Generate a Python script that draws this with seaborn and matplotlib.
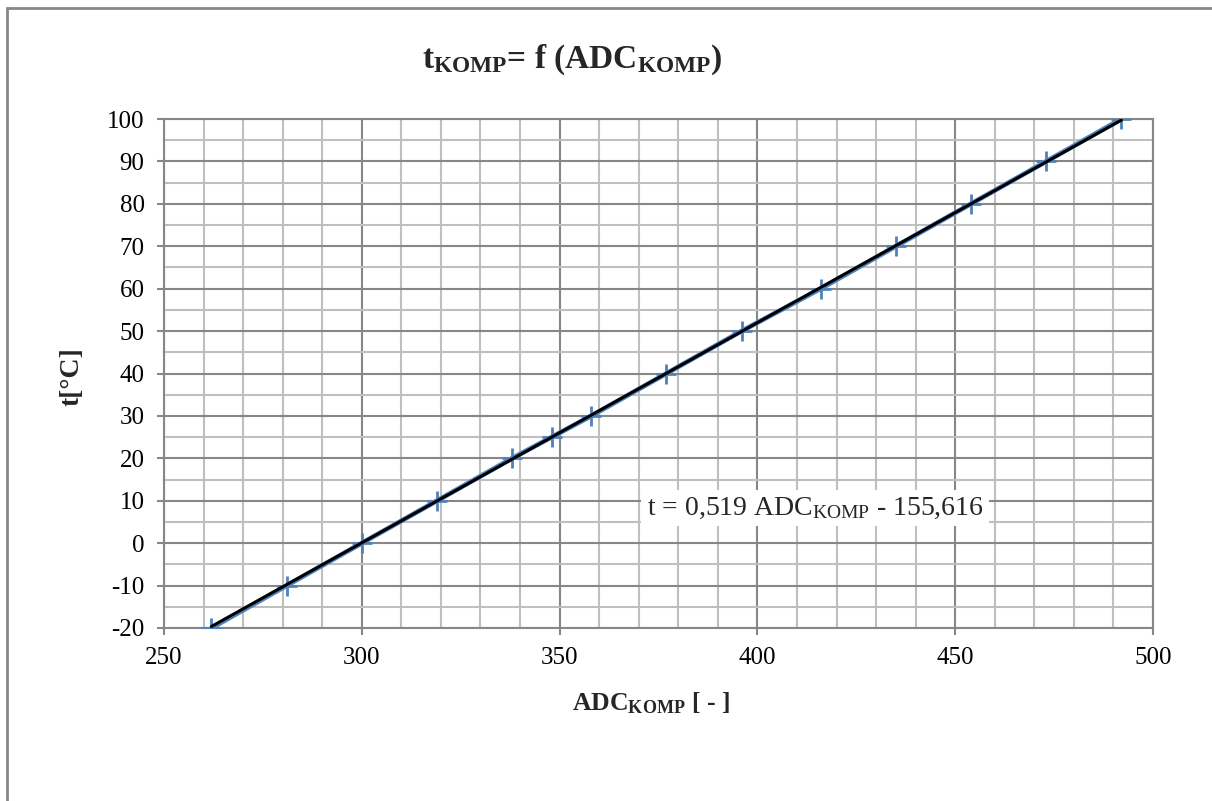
import matplotlib
matplotlib.use("Agg")
import matplotlib.pyplot as plt
from matplotlib.ticker import MultipleLocator
import numpy as np
import seaborn as sns

# measured points: ADC reading vs temperature
adc = [262, 281, 300, 319, 338, 348, 358, 377, 396, 416, 435, 454, 473, 492]
temp = [-20, -10, 0, 10, 20, 25, 30, 40, 50, 60, 70, 80, 90, 100]

# linear trend shown on the chart
slope = 0.519
intercept = -155.616

sns.set_theme(style="white")
plt.rcParams['font.family'] = ['Liberation Serif', 'DejaVu Serif']
plt.rcParams['mathtext.fontset'] = 'custom'
plt.rcParams['mathtext.rm'] = 'Liberation Serif'
plt.rcParams['mathtext.it'] = 'Liberation Serif:italic'
plt.rcParams['mathtext.bf'] = 'Liberation Serif:bold'
plt.rcParams['axes.unicode_minus'] = False

fig = plt.figure(figsize=(12.12, 8.01), dpi=100)
ax = fig.add_axes([164 / 1212, 1 - 628 / 801, (1153 - 164) / 1212, (628 - 119) / 801])

# data series: line + cross markers
sns.lineplot(x=adc, y=temp, ax=ax, color='#4F81BD', lw=3.5, sort=False, zorder=3)
sns.scatterplot(x=adc, y=temp, ax=ax, marker='+', s=200, color='#4F81BD',
                linewidth=2, zorder=3.5)

# trend line
trend_x = np.array([min(adc), max(adc)])
sns.lineplot(x=trend_x, y=slope * trend_x + intercept, ax=ax, color='black',
             lw=2.2, zorder=4)

ax.set_xlim(250, 500)
ax.set_ylim(-20, 100)
ax.xaxis.set_major_locator(MultipleLocator(50))
ax.xaxis.set_minor_locator(MultipleLocator(10))
ax.yaxis.set_major_locator(MultipleLocator(10))
ax.yaxis.set_minor_locator(MultipleLocator(5))
ax.grid(which='major', color='#878787', lw=1.5)
ax.grid(which='minor', color='#BFBFBF', lw=1.5)
ax.set_axisbelow(True)

for s in ax.spines.values():
    s.set_color('#878787')
    s.set_linewidth(1.5)

ax.tick_params(which='major', direction='out', length=5, width=1.5,
               color='#878787', labelsize=18, labelcolor='black')
ax.tick_params(which='minor', length=0)
ax.tick_params(axis='x', bottom=True, pad=9)
ax.tick_params(axis='y', left=True, pad=9)

ax.text(372, 8.3, r't = 0,519 ADC$_{\mathrm{KOMP}}$ - 155,616', fontsize=20,
        va='center', ha='left',
        bbox=dict(boxstyle='square,pad=0.2', fc='white', ec='none'), zorder=5)

fig.text(572 / 1212, 1 - 60 / 801, r'$\mathbf{t_{KOMP}}$= f (ADC$\mathbf{_{KOMP}}$)',
         fontsize=24, fontweight='bold', ha='center', va='center')
fig.text(651 / 1212, 1 - 703 / 801, r'ADC$\mathbf{_{KOMP}}$ [ - ]',
         fontsize=18.5, fontweight='bold', ha='center', va='center')
fig.text(72 / 1212, 1 - 377 / 801, 't[°C]', fontsize=20, fontweight='bold',
         rotation=90, ha='center', va='center')

# chart area border (top and left edges visible)
fig.add_artist(plt.Line2D([7 / 1212, 1], [1 - 8 / 801, 1 - 8 / 801], color='#878787', lw=2))
fig.add_artist(plt.Line2D([7 / 1212, 7 / 1212], [0, 1 - 8 / 801], color='#878787', lw=2))

fig.savefig('out.png', dpi=100)
